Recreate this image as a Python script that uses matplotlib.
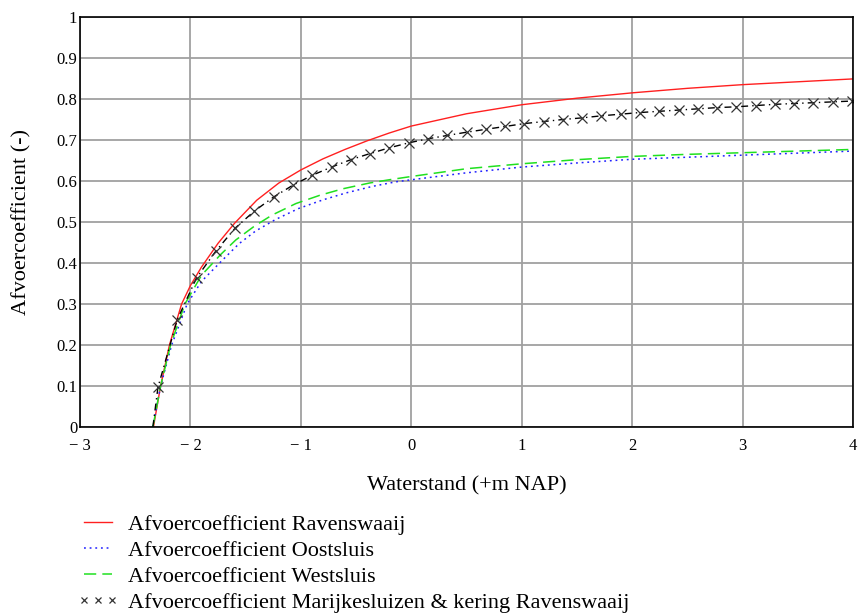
import numpy as np
import matplotlib.pyplot as plt
from matplotlib.lines import Line2D

plt.rcParams['font.family'] = ['Liberation Serif', 'DejaVu Serif']

# Afvoercoefficient Ravenswaaij
x_rav = [-2.335, -2.27, -2.19, -2.08, -2.0, -1.9, -1.75, -1.6, -1.4, -1.2, -1.0,
         -0.8, -0.6, -0.4, -0.2, 0.0, 0.5, 1.0, 1.5, 2.0, 2.5, 3.0, 3.5, 4.0]
y_rav = [0.0, 0.10, 0.20, 0.30, 0.345, 0.39, 0.448, 0.497, 0.553, 0.595, 0.627,
         0.654, 0.677, 0.698, 0.717, 0.734, 0.764, 0.786, 0.802, 0.815, 0.826, 0.835, 0.842, 0.849]

# Afvoercoefficient Oostsluis
x_oost = [-2.34, -2.27, -2.17, -2.03, -1.9, -1.71, -1.56, -1.41, -1.23, -1.02, -0.8,
          -0.59, -0.35, -0.14, 0.0, 0.5, 1.0, 1.5, 2.0, 2.5, 3.0, 3.5, 4.0]
y_oost = [0.0, 0.10, 0.20, 0.30, 0.355, 0.407, 0.447, 0.478, 0.506, 0.533, 0.554,
          0.571, 0.587, 0.598, 0.603, 0.620, 0.634, 0.644, 0.653, 0.658, 0.663, 0.668, 0.673]

# Afvoercoefficient Westsluis
x_west = [-2.34, -2.27, -2.18, -2.05, -1.9, -1.725, -1.59, -1.42, -1.26, -1.045, -0.83,
          -0.62, -0.38, -0.2, 0.0, 0.5, 1.0, 1.5, 2.0, 2.5, 3.0, 3.5, 4.0]
y_west = [0.0, 0.10, 0.20, 0.30, 0.37, 0.421, 0.456, 0.490, 0.517, 0.545, 0.565,
          0.581, 0.595, 0.603, 0.611, 0.630, 0.642, 0.652, 0.660, 0.665, 0.669, 0.673, 0.677]

# Afvoercoefficient Marijkesluizen & kering Ravenswaaij
x_mar = [-2.34, -2.294, -2.119, -1.944, -1.77, -1.595, -1.42, -1.246, -1.071, -0.897, -0.722,
         -0.548, -0.373, -0.199, -0.024, 0.151, 0.325, 0.5, 0.674, 0.849, 1.023,
         1.198, 1.373, 1.547, 1.722, 1.896, 2.071, 2.245, 2.42, 2.594, 2.769,
         2.944, 3.118, 3.293, 3.467, 3.642, 3.816, 3.991]
y_mar = [0.0, 0.097, 0.262, 0.364, 0.429, 0.485, 0.527, 0.561, 0.590, 0.614, 0.634,
         0.652, 0.667, 0.681, 0.693, 0.703, 0.711, 0.719, 0.726, 0.733, 0.740,
         0.745, 0.750, 0.754, 0.759, 0.763, 0.767, 0.770, 0.773, 0.776, 0.779,
         0.781, 0.784, 0.787, 0.789, 0.791, 0.793, 0.795]

xticks = [-3, -2, -1, 0, 1, 2, 3, 4]
xticklabels = ["\u2212 3", "\u2212 2", "\u2212 1", "0", "1", "2", "3", "4"]
yticks = [0, 0.1, 0.2, 0.3, 0.4, 0.5, 0.6, 0.7, 0.8, 0.9, 1]
yticklabels = ["0", "0.1", "0.2", "0.3", "0.4", "0.5", "0.6", "0.7", "0.8", "0.9", "1"]

fig = plt.figure(figsize=(8.61, 6.15), dpi=100)
ax = fig.add_axes([80/861, 1-427/615, 773/861, 410/615])

ax.plot(x_rav, y_rav, color="#ff2020", lw=1.0)
ax.plot(x_oost, y_oost, color="#2020ff", lw=1.1, linestyle=(0, (1.2, 2.5)))
ax.plot(x_west, y_west, color="#20e020", lw=1.1, linestyle=(0, (8, 4)))
ax.plot(x_mar, y_mar, color="black", lw=1.0, linestyle=(0, (5, 3, 1, 3)),
        marker="x", markersize=6.5, markeredgewidth=0.9, markeredgecolor="#333333",
        markevery=list(range(1, len(x_mar))))

ax.set_xlim(-3, 4)
ax.set_ylim(0, 1)
ax.set_xticks(xticks)
ax.set_xticklabels(xticklabels)
ax.set_yticks(yticks)
ax.set_yticklabels(yticklabels)
ax.tick_params(length=0, labelsize=12)
ax.tick_params(axis="x", pad=8)
ax.tick_params(axis="y", pad=2)
ax.grid(True, color="#a0a0a0", lw=1.3)
ax.set_axisbelow(True)
for s in ax.spines.values():
    s.set_color("black")
    s.set_linewidth(1.2)

ax.set_xlabel("Waterstand (+m NAP)", fontsize=16, labelpad=16)
ax.set_ylabel("Afvoercoefficient (-)", fontsize=16, labelpad=18)

handles = [
    Line2D([], [], color="#ff2020", lw=1.0),
    Line2D([], [], color="#2020ff", lw=1.1, linestyle=(0, (1.2, 2.5))),
    Line2D([], [], color="#20e020", lw=1.1, linestyle=(0, (8, 4))),
    Line2D([], [], color="#333333", linestyle="none", marker="x", markersize=5, markeredgewidth=0.9),
]
labels = [
    "Afvoercoefficient Ravenswaaij",
    "Afvoercoefficient Oostsluis",
    "Afvoercoefficient Westsluis",
    "Afvoercoefficient Marijkesluizen & kering Ravenswaaij",
]
fig.legend(handles, labels, loc="upper left", bbox_to_anchor=(66/861, 1-503/615),
           frameon=False, fontsize=16, numpoints=3, handlelength=1.85,
           handletextpad=0.45, labelspacing=0.25, borderpad=0)

fig.savefig("out.png", dpi=100)
